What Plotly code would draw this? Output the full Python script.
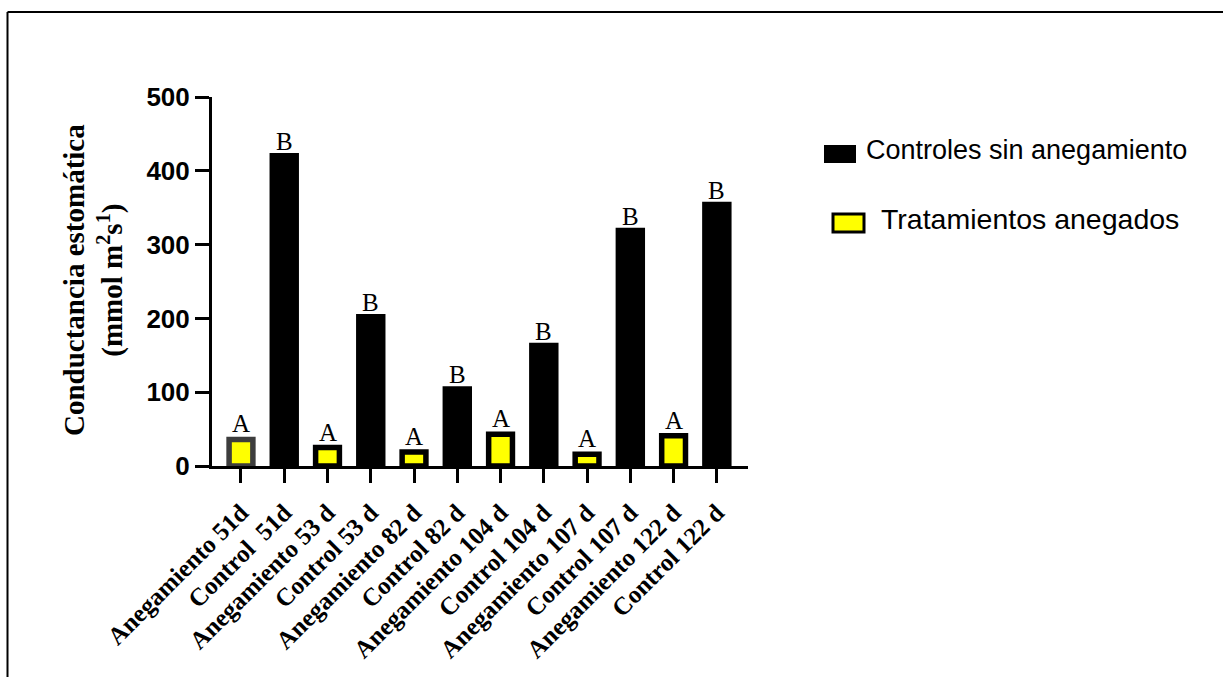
import plotly.graph_objects as go

# Categories in display order (treated / control pairs per sampling day)
categories = [
    "Anegamiento 51d", "Control\u00a0 51d",
    "Anegamiento 53 d", "Control 53 d",
    "Anegamiento 82 d", "Control 82 d",
    "Anegamiento 104 d", "Control 104 d",
    "Anegamiento 107 d", "Control 107 d",
    "Anegamiento 122 d", "Control 122 d",
]

# Flooded treatments
flooded_labels = ["Anegamiento 51d", "Anegamiento 53 d", "Anegamiento 82 d",
                  "Anegamiento 104 d", "Anegamiento 107 d", "Anegamiento 122 d"]
flooded_values = [36, 25, 19, 43, 16, 41]
flooded_letters = ["A", "A", "A", "A", "A", "A"]

# Non-flooded controls
control_labels = ["Control\u00a0 51d", "Control 53 d", "Control 82 d",
                  "Control 104 d", "Control 107 d", "Control 122 d"]
control_values = [424, 206, 108, 167, 323, 358]
control_letters = ["B", "B", "B", "B", "B", "B"]

y_ticks = [0, 100, 200, 300, 400, 500]

SERIF = "Times New Roman, Liberation Serif, serif"
SANS = "Arial, Liberation Sans, sans-serif"

fig = go.Figure()

fig.add_trace(go.Bar(
    x=control_labels, y=control_values, width=0.68,
    marker=dict(color="#000000", line=dict(width=0)),
    showlegend=False, hoverinfo="x+y",
))
fig.add_trace(go.Bar(
    x=flooded_labels, y=flooded_values, width=0.55,
    marker=dict(color="#ffff00",
                line=dict(width=5.5,
                          color=["#3d3d3d"] + ["#000000"] * (len(flooded_values) - 1))),
    showlegend=False, hoverinfo="x+y",
))

# Significance letters above each bar
annotations = []
for lab, val, let in zip(flooded_labels, flooded_values, flooded_letters):
    annotations.append(dict(x=lab, y=val, xref="x", yref="y", text=let,
                            showarrow=False, yanchor="bottom", yshift=0,
                            font=dict(family=SERIF, size=25, color="#000")))
for lab, val, let in zip(control_labels, control_values, control_letters):
    annotations.append(dict(x=lab, y=val, xref="x", yref="y", text=let,
                            showarrow=False, yanchor="bottom", yshift=-4,
                            font=dict(family=SERIF, size=25, color="#000")))

# Plot-area geometry in pixels, used to place paper-referenced items
L, R, T, B = 212, 748, 97, 466
W, H = R - L, B - T


def px(xp):
    return (xp - L) / W


def py(yp):
    return (B - yp) / H


# Y axis title (two lines, rotated)
annotations.append(dict(
    x=px(93), y=py(280), xref="paper", yref="paper",
    text="Conductancia estomática<br>(mmol m<sup>2</sup>s<sup>1</sup>)",
    textangle=-90, showarrow=False, xanchor="center", yanchor="middle",
    font=dict(family=SERIF, size=29, color="#000", weight="bold"),
))

# Legend entries
annotations.append(dict(
    x=px(864), y=py(150), xref="paper", yref="paper",
    text="Controles sin anegamiento", showarrow=False,
    xanchor="left", yanchor="middle",
    font=dict(family=SANS, size=27, color="#000"),
))
annotations.append(dict(
    x=px(879), y=py(219), xref="paper", yref="paper",
    text="Tratamientos anegados", showarrow=False,
    xanchor="left", yanchor="middle",
    font=dict(family=SANS, size=28.5, color="#000"),
))

shapes = [
    # legend swatches
    dict(type="rect", xref="paper", yref="paper",
         x0=px(824), x1=px(856), y0=py(145), y1=py(163),
         fillcolor="#000000", line=dict(width=0)),
    dict(type="rect", xref="paper", yref="paper",
         x0=px(833), x1=px(864), y0=py(214), y1=py(232),
         fillcolor="#ffff00", line=dict(width=3, color="#000000")),
    # outer frame (top and left edges)
    dict(type="line", xref="paper", yref="paper",
         x0=px(7.5), x1=px(1223), y0=py(12), y1=py(12),
         line=dict(width=2, color="#000000")),
    dict(type="line", xref="paper", yref="paper",
         x0=px(7.5), x1=px(7.5), y0=py(12), y1=py(677),
         line=dict(width=2, color="#000000")),
]

fig.update_layout(
    width=1223, height=677,
    margin=dict(l=L, r=1223 - R, t=T, b=677 - B, autoexpand=False),
    plot_bgcolor="white", paper_bgcolor="white",
    barmode="overlay",
    annotations=annotations,
    shapes=shapes,
    xaxis=dict(
        categoryorder="array", categoryarray=categories,
        range=[-0.67, 11.72],
        showline=True, linewidth=3, linecolor="#000",
        ticks="outside", ticklen=14, tickwidth=3, tickcolor="#000",
        tickangle=-45, showgrid=False, zeroline=False,
        ticklabelstandoff=5,
        tickfont=dict(family=SERIF, size=25, color="#000", weight="bold"),
    ),
    yaxis=dict(
        range=[0, 500], tickvals=y_ticks,
        showline=True, linewidth=3, linecolor="#000",
        ticks="outside", ticklen=14, tickwidth=3, tickcolor="#000",
        showgrid=False, zeroline=False,
        tickfont=dict(family=SANS, size=26, color="#000", weight="bold"),
    ),
)

fig.write_html("out.html")
